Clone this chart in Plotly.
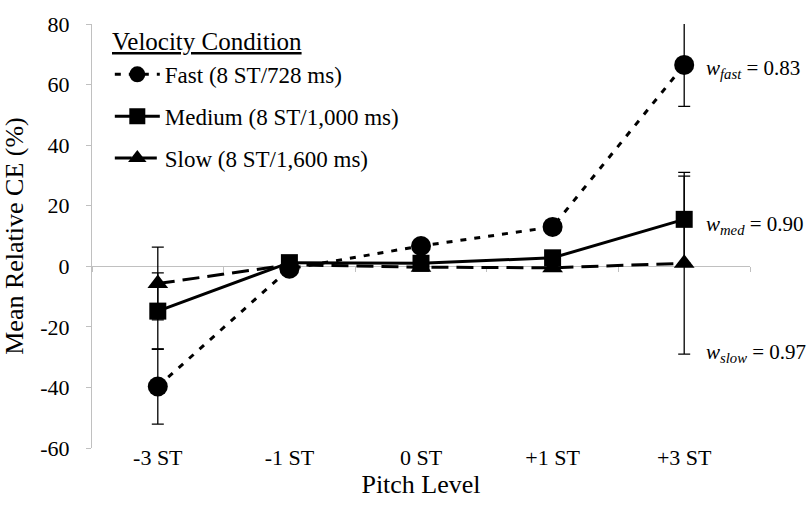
import plotly.graph_objects as go

categories = ["-3 ST", "-1 ST", "0 ST", "+1 ST", "+3 ST"]
fast = [-39.7, -0.8, 6.7, 13.0, 66.5]
medium = [-14.8, 1.2, 1.0, 2.8, 15.5]
slow = [-5.7, 0.5, -0.3, -0.5, 1.0]
fast_err = [12.4, 0, 0, 0, 13.7]
medium_err = [12.6, 0, 0, 0, 14.3]
slow_err = [12.0, 0, 0, 0, 30.0]
series_names = ["Fast (8 ST/728 ms)", "Medium (8 ST/1,000 ms)", "Slow (8 ST/1,600 ms)"]
legend_title = "Velocity Condition"
weight_labels = ["<i>w</i><sub><i>fast</i></sub> = 0.83",
                 "<i>w</i><sub><i>med</i></sub> = 0.90",
                 "<i>w</i><sub><i>slow</i></sub> = 0.97"]
weight_label_y = [65, 13.5, -28.5]
y_ticks = [-60, -40, -20, 0, 20, 40, 60, 80]
y_range = [-60, 80]

FONT = "Liberation Serif, Times New Roman, DejaVu Serif, serif"
GRAY = "#c0c0c0"
xs = list(range(len(categories)))

plot_l, plot_r, plot_t, plot_b = 85, 750, 22, 448
def px_x(p):
    return (p - plot_l) / (plot_r - plot_l)
def px_y(p):
    return (plot_b - p) / (plot_b - plot_t)

fig = go.Figure()

def add(vals, errs, name, dash, symbol, size, rank):
    fig.add_trace(go.Scatter(
        x=xs, y=vals, name=name, mode="lines+markers",
        line=dict(color="black", width=3, dash=dash),
        marker=dict(symbol=symbol, size=size, color="black"),
        error_y=dict(type="data", array=errs, visible=True, color="black",
                     thickness=1.3, width=6),
        legendrank=rank, legendgroup=name,
    ))

add(fast, fast_err, series_names[0], "6px,8px", "circle", 20, 1)
add(slow, slow_err, series_names[2], "17px,8px", "triangle-up", 18, 3)
add(medium, medium_err, series_names[1], "solid", "square", 17, 2)

# secondary x axis drawn along y = 0 (category boundary ticks)
zero_pos = (0 - y_range[0]) / (y_range[1] - y_range[0])
fig.add_trace(go.Scatter(x=categories, y=[None]*len(categories), xaxis="x2",
                         showlegend=False, hoverinfo="skip"))

for txt, yv in zip(weight_labels, weight_label_y):
    fig.add_annotation(x=xs[-1], y=yv, xref="x", yref="y", text=txt,
                       showarrow=False, xanchor="left", yanchor="middle",
                       xshift=20, font=dict(family=FONT, size=21, color="black"))

fig.add_annotation(x=px_x(103), y=px_y(40), xref="paper", yref="paper", text=legend_title,
                   showarrow=False, xanchor="left", yanchor="middle",
                   font=dict(family=FONT, size=25, color="black", lineposition="under"))

fig.update_layout(
    width=809, height=521,
    margin=dict(l=plot_l, r=809 - plot_r, t=plot_t, b=521 - plot_b),
    plot_bgcolor="white", paper_bgcolor="white",
    font=dict(family=FONT, color="black", size=22),
    showlegend=True,
    legend=dict(
        x=px_x(103), y=px_y(51),
        xanchor="left", yanchor="top",
        bgcolor="rgba(0,0,0,0)",
        font=dict(family=FONT, size=23),
        traceorder="grouped", itemwidth=45, tracegroupgap=9,
    ),
    xaxis=dict(
        range=[-0.5, len(categories) - 0.5],
        tickvals=xs, ticktext=categories, showline=False, ticks="",
        showgrid=False, zeroline=False, ticklabelstandoff=-6,
        tickfont=dict(family=FONT, size=22),
        title=dict(text="Pitch Level", font=dict(family=FONT, size=26), standoff=4),
    ),
    xaxis2=dict(
        type="category", overlaying="x", anchor="free", position=zero_pos,
        range=[-0.5, len(categories) - 0.5], showline=True, linecolor=GRAY,
        linewidth=1, ticks="outside", tickson="boundaries", ticklen=5,
        tickcolor=GRAY, showticklabels=False, showgrid=False, zeroline=False,
        side="bottom", layer="below traces",
    ),
    yaxis=dict(
        range=y_range, tickvals=y_ticks, ticktext=[str(v) for v in y_ticks],
        showline=True, linecolor=GRAY, linewidth=1, ticks="outside",
        ticklen=5, tickcolor=GRAY, showgrid=False, zeroline=False,
        ticklabelstandoff=12, layer="below traces",
        tickfont=dict(family=FONT, size=22),
        title=dict(text="Mean Relative CE (%)", font=dict(family=FONT, size=26), standoff=10),
    ),
)

fig.write_html("out.html")
